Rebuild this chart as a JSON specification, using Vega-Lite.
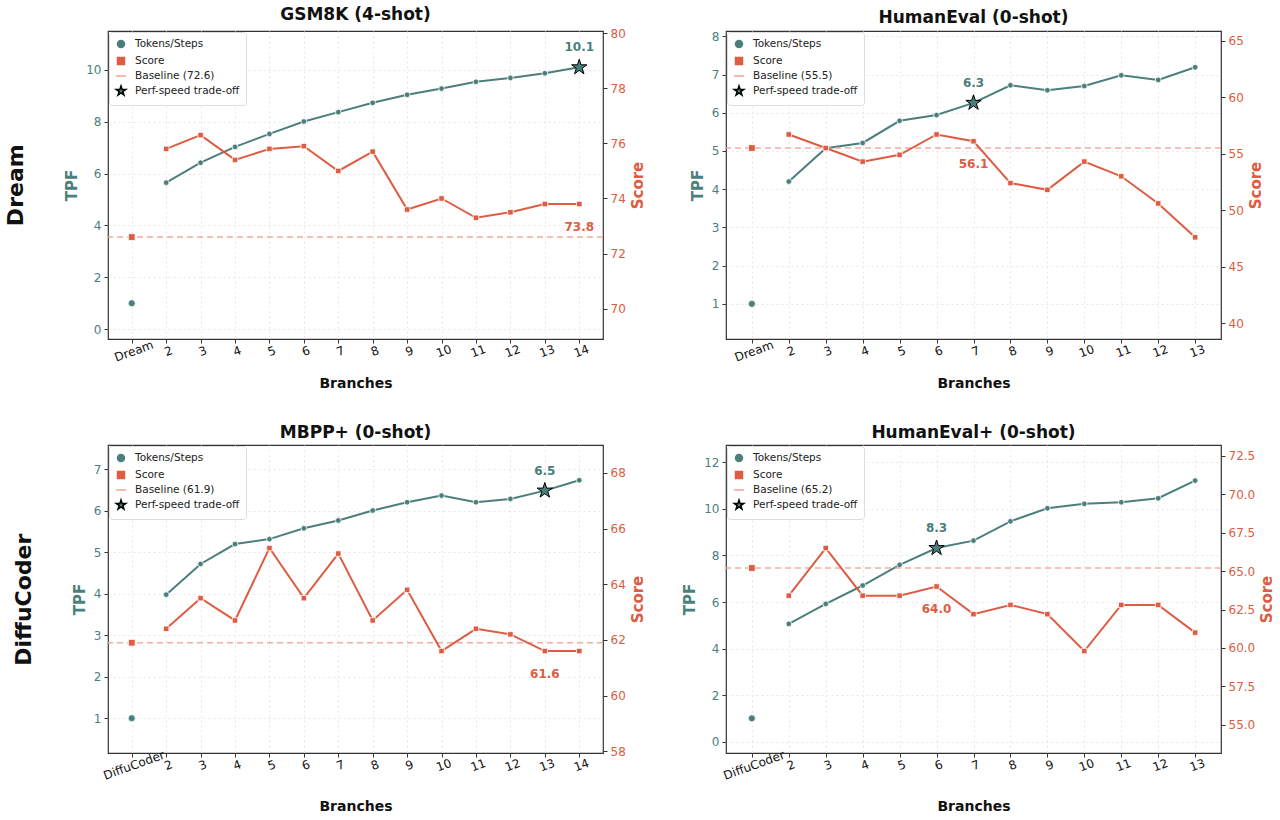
{
  "$schema": "https://vega.github.io/schema/vega-lite/v6.json",
  "background": "white",
  "padding": 5,
  "config": {
    "font": "DejaVu Sans",
    "view": {"stroke": "#333333", "strokeWidth": 1.2},
    "title": {"fontSize": 17, "fontWeight": "bold", "color": "#111111", "offset": 3},
    "axis": {"labelFontSize": 12, "titleFontSize": 15, "titleFontWeight": "bold", "tickColor": "#333333", "tickSize": 4, "domain": false, "gridColor": "#e6e6e6", "gridDash": [2, 3], "labelPadding": 3, "titlePadding": 6},
    "axisX": {"labelColor": "#111111", "titleColor": "#111111", "titleFontSize": 14},
    "axisRight": {"titleBaseline": "top", "titlePadding": 5},
    "legend": {"orient": "top-left", "offset": 1, "padding": 6, "fillColor": "rgba(255,255,255,0.85)", "strokeColor": "#dddddd", "cornerRadius": 3, "labelFontSize": 10.5, "labelColor": "#222222", "rowPadding": 1, "labelOffset": 8, "symbolOpacity": 1, "symbolSize": 100}
  },
  "spacing": 32,
  "resolve": {"scale": {"x": "independent", "y": "independent", "shape": "independent", "fill": "independent", "stroke": "independent"}, "legend": {"shape": "independent", "fill": "independent", "stroke": "independent"}},
  "vconcat": [
    {
      "title": {"text": "Dream", "orient": "left", "fontSize": 22, "fontWeight": "bold", "anchor": "middle", "offset": 36, "dx": 13},
      "spacing": 43,
      "resolve": {"scale": {"x": "independent", "y": "independent", "shape": "independent", "fill": "independent", "stroke": "independent"}, "legend": {"shape": "independent", "fill": "independent", "stroke": "independent"}},
      "hconcat": [
        {
          "title": "GSM8K (4-shot)",
          "width": 495, "height": 308,
          "data": {"values": [
            {"branch": "Dream", "tpf": 1.0, "score": 72.6},
            {"branch": "2", "tpf": 5.65, "score": 75.8},
            {"branch": "3", "tpf": 6.42, "score": 76.3},
            {"branch": "4", "tpf": 7.03, "score": 75.4},
            {"branch": "5", "tpf": 7.53, "score": 75.8},
            {"branch": "6", "tpf": 8.01, "score": 75.9},
            {"branch": "7", "tpf": 8.37, "score": 75.0},
            {"branch": "8", "tpf": 8.73, "score": 75.7},
            {"branch": "9", "tpf": 9.04, "score": 73.6},
            {"branch": "10", "tpf": 9.28, "score": 74.0},
            {"branch": "11", "tpf": 9.54, "score": 73.3},
            {"branch": "12", "tpf": 9.69, "score": 73.5},
            {"branch": "13", "tpf": 9.87, "score": 73.8},
            {"branch": "14", "tpf": 10.1, "score": 73.8}
          ]},
          "resolve": {"scale": {"y": "independent"}},
          "layer": [
            {"layer": [
              {"transform": [{"filter": "datum.branch != 'Dream'"}],
               "mark": {"type": "line", "color": "#4a7f7c", "strokeWidth": 2},
               "encoding": {
                 "x": {"field": "branch", "type": "ordinal", "scale": {"type": "point", "domain": ["Dream","2","3","4","5","6","7","8","9","10","11","12","13","14"], "padding": 0.69}, "axis": {"title": "Branches", "labelAngle": -20, "labelAlign": "center", "labelBaseline": "top", "grid": true, "titlePadding": 13}},
                 "y": {"field": "tpf", "type": "quantitative", "scale": {"domain": [-0.38, 11.5], "nice": false, "zero": false}, "axis": {"title": "TPF", "orient": "left", "values": [0,2,4,6,8,10], "grid": true, "labelColor": "#4a7f7c", "titleColor": "#4a7f7c"}}
               }},
              {"mark": {"type": "point", "filled": true, "opacity": 1, "strokeWidth": 0.8},
               "encoding": {
                 "x": {"field": "branch", "type": "ordinal", "scale": {"type": "point", "domain": ["Dream","2","3","4","5","6","7","8","9","10","11","12","13","14"], "padding": 0.69}},
                 "y": {"field": "tpf", "type": "quantitative"},
                 "shape": {"datum": "Tokens/Steps", "scale": {"domain": ["Tokens/Steps","Score","Baseline (72.6)","Perf-speed trade-off"], "range": ["circle","square","stroke","M0,-1L0.2245,-0.309L0.951,-0.309L0.363,0.118L0.588,0.809L0,0.382L-0.588,0.809L-0.363,0.118L-0.951,-0.309L-0.2245,-0.309Z"]}, "legend": {"title": null, "encode": {"symbols": {"update": {"size": {"signal": "indexOf(datum.value,'Baseline')==0 ? 400 : datum.value=='Perf-speed trade-off' ? 180 : 34"}, "strokeDash": {"signal": "indexOf(datum.value,'Baseline')==0 ? [5,3] : [1,0]"}, "strokeWidth": {"signal": "indexOf(datum.value,'Baseline')==0 ? 1.5 : 0.8"}}}}}},
                 "fill": {"datum": "Tokens/Steps", "scale": {"domain": ["Tokens/Steps","Score","Baseline (72.6)","Perf-speed trade-off"], "range": ["#4a7f7c","#dd5c42","transparent","#4a7f7c"]}, "legend": {"title": null}},
                 "stroke": {"datum": "Tokens/Steps", "scale": {"domain": ["Tokens/Steps","Score","Baseline (72.6)","Perf-speed trade-off"], "range": ["white","white","#f4a393","black"]}, "legend": {"title": null}},
                 "size": {"condition": {"test": "datum.branch == 'Dream'", "value": 50}, "value": 32}
               }},
              {"transform": [{"filter": "datum.branch == '14'"}],
               "mark": {"type": "point", "filled": true, "opacity": 1, "strokeWidth": 1},
               "encoding": {
                 "x": {"field": "branch", "type": "ordinal", "scale": {"type": "point", "domain": ["Dream","2","3","4","5","6","7","8","9","10","11","12","13","14"], "padding": 0.69}},
                 "y": {"field": "tpf", "type": "quantitative"},
                 "shape": {"datum": "Perf-speed trade-off"},
                 "fill": {"datum": "Perf-speed trade-off"},
                 "stroke": {"datum": "Perf-speed trade-off"},
                 "size": {"value": 260}
               }},
              {"transform": [{"filter": "datum.branch == '14'"}],
               "mark": {"type": "text", "dy": -20, "fontSize": 12, "fontWeight": "bold", "color": "#4a7f7c"},
               "encoding": {
                 "x": {"field": "branch", "type": "ordinal", "scale": {"type": "point", "domain": ["Dream","2","3","4","5","6","7","8","9","10","11","12","13","14"], "padding": 0.69}},
                 "y": {"field": "tpf", "type": "quantitative"},
                 "text": {"field": "tpf", "type": "quantitative", "format": ".1f"}
               }}
            ]},
            {"layer": [
              {"transform": [{"filter": "datum.branch == 'Dream'"}],
               "mark": {"type": "rule", "strokeDash": [6, 4], "strokeWidth": 1.5, "opacity": 0.9},
               "encoding": {
                 "y": {"field": "score", "type": "quantitative", "scale": {"domain": [68.9, 80.08], "nice": false, "zero": false}, "axis": {"title": "Score", "orient": "right", "values": [70,72,74,76,78,80], "grid": false, "labelColor": "#dd5c42", "titleColor": "#dd5c42", "titleAngle": 270}},
                 "stroke": {"datum": "Baseline (72.6)"}
               }},
              {"transform": [{"filter": "datum.branch != 'Dream'"}],
               "mark": {"type": "line", "color": "#dd5c42", "strokeWidth": 2},
               "encoding": {
                 "x": {"field": "branch", "type": "ordinal", "scale": {"type": "point", "domain": ["Dream","2","3","4","5","6","7","8","9","10","11","12","13","14"], "padding": 0.69}},
                 "y": {"field": "score", "type": "quantitative"}
               }},
              {"mark": {"type": "point", "filled": true, "opacity": 1, "strokeWidth": 0.8},
               "encoding": {
                 "x": {"field": "branch", "type": "ordinal", "scale": {"type": "point", "domain": ["Dream","2","3","4","5","6","7","8","9","10","11","12","13","14"], "padding": 0.69}},
                 "y": {"field": "score", "type": "quantitative"},
                 "shape": {"datum": "Score"},
                 "fill": {"datum": "Score"},
                 "stroke": {"datum": "Score"},
                 "size": {"condition": {"test": "datum.branch == 'Dream'", "value": 45}, "value": 30}
               }},
              {"transform": [{"filter": "datum.branch == '14'"}],
               "mark": {"type": "text", "dy": 23, "fontSize": 12, "fontWeight": "bold", "color": "#dd5c42"},
               "encoding": {
                 "x": {"field": "branch", "type": "ordinal", "scale": {"type": "point", "domain": ["Dream","2","3","4","5","6","7","8","9","10","11","12","13","14"], "padding": 0.69}},
                 "y": {"field": "score", "type": "quantitative"},
                 "text": {"field": "score", "type": "quantitative", "format": ".1f"}
               }}
            ]}
          ]
        },
        {
          "title": "HumanEval (0-shot)",
          "width": 495, "height": 308,
          "data": {"values": [
            {"branch": "Dream", "tpf": 1.0, "score": 55.5},
            {"branch": "2", "tpf": 4.20, "score": 56.7},
            {"branch": "3", "tpf": 5.07, "score": 55.5},
            {"branch": "4", "tpf": 5.21, "score": 54.3},
            {"branch": "5", "tpf": 5.79, "score": 54.9},
            {"branch": "6", "tpf": 5.94, "score": 56.7},
            {"branch": "7", "tpf": 6.26, "score": 56.1},
            {"branch": "8", "tpf": 6.72, "score": 52.4},
            {"branch": "9", "tpf": 6.59, "score": 51.8},
            {"branch": "10", "tpf": 6.70, "score": 54.3},
            {"branch": "11", "tpf": 6.98, "score": 53.0},
            {"branch": "12", "tpf": 6.86, "score": 50.6},
            {"branch": "13", "tpf": 7.19, "score": 47.6}
          ]},
          "resolve": {"scale": {"y": "independent"}},
          "layer": [
            {"layer": [
              {"transform": [{"filter": "datum.branch != 'Dream'"}],
               "mark": {"type": "line", "color": "#4a7f7c", "strokeWidth": 2},
               "encoding": {
                 "x": {"field": "branch", "type": "ordinal", "scale": {"type": "point", "domain": ["Dream","2","3","4","5","6","7","8","9","10","11","12","13"], "padding": 0.7}, "axis": {"title": "Branches", "labelAngle": -20, "labelAlign": "center", "labelBaseline": "top", "grid": true, "titlePadding": 13}},
                 "y": {"field": "tpf", "type": "quantitative", "scale": {"domain": [0.08, 8.14], "nice": false, "zero": false}, "axis": {"title": "TPF", "orient": "left", "values": [1,2,3,4,5,6,7,8], "grid": true, "labelColor": "#4a7f7c", "titleColor": "#4a7f7c"}}
               }},
              {"mark": {"type": "point", "filled": true, "opacity": 1, "strokeWidth": 0.8},
               "encoding": {
                 "x": {"field": "branch", "type": "ordinal", "scale": {"type": "point", "domain": ["Dream","2","3","4","5","6","7","8","9","10","11","12","13"], "padding": 0.7}},
                 "y": {"field": "tpf", "type": "quantitative"},
                 "shape": {"datum": "Tokens/Steps", "scale": {"domain": ["Tokens/Steps","Score","Baseline (55.5)","Perf-speed trade-off"], "range": ["circle","square","stroke","M0,-1L0.2245,-0.309L0.951,-0.309L0.363,0.118L0.588,0.809L0,0.382L-0.588,0.809L-0.363,0.118L-0.951,-0.309L-0.2245,-0.309Z"]}, "legend": {"title": null, "encode": {"symbols": {"update": {"size": {"signal": "indexOf(datum.value,'Baseline')==0 ? 400 : datum.value=='Perf-speed trade-off' ? 180 : 34"}, "strokeDash": {"signal": "indexOf(datum.value,'Baseline')==0 ? [5,3] : [1,0]"}, "strokeWidth": {"signal": "indexOf(datum.value,'Baseline')==0 ? 1.5 : 0.8"}}}}}},
                 "fill": {"datum": "Tokens/Steps", "scale": {"domain": ["Tokens/Steps","Score","Baseline (55.5)","Perf-speed trade-off"], "range": ["#4a7f7c","#dd5c42","transparent","#4a7f7c"]}, "legend": {"title": null}},
                 "stroke": {"datum": "Tokens/Steps", "scale": {"domain": ["Tokens/Steps","Score","Baseline (55.5)","Perf-speed trade-off"], "range": ["white","white","#f4a393","black"]}, "legend": {"title": null}},
                 "size": {"condition": {"test": "datum.branch == 'Dream'", "value": 50}, "value": 32}
               }},
              {"transform": [{"filter": "datum.branch == '7'"}],
               "mark": {"type": "point", "filled": true, "opacity": 1, "strokeWidth": 1},
               "encoding": {
                 "x": {"field": "branch", "type": "ordinal", "scale": {"type": "point", "domain": ["Dream","2","3","4","5","6","7","8","9","10","11","12","13"], "padding": 0.7}},
                 "y": {"field": "tpf", "type": "quantitative"},
                 "shape": {"datum": "Perf-speed trade-off"},
                 "fill": {"datum": "Perf-speed trade-off"},
                 "stroke": {"datum": "Perf-speed trade-off"},
                 "size": {"value": 260}
               }},
              {"transform": [{"filter": "datum.branch == '7'"}],
               "mark": {"type": "text", "dy": -20, "fontSize": 12, "fontWeight": "bold", "color": "#4a7f7c"},
               "encoding": {
                 "x": {"field": "branch", "type": "ordinal", "scale": {"type": "point", "domain": ["Dream","2","3","4","5","6","7","8","9","10","11","12","13"], "padding": 0.7}},
                 "y": {"field": "tpf", "type": "quantitative"},
                 "text": {"field": "tpf", "type": "quantitative", "format": ".1f"}
               }}
            ]},
            {"layer": [
              {"transform": [{"filter": "datum.branch == 'Dream'"}],
               "mark": {"type": "rule", "strokeDash": [6, 4], "strokeWidth": 1.5, "opacity": 0.9},
               "encoding": {
                 "y": {"field": "score", "type": "quantitative", "scale": {"domain": [38.6, 65.86], "nice": false, "zero": false}, "axis": {"title": "Score", "orient": "right", "values": [40,45,50,55,60,65], "grid": false, "labelColor": "#dd5c42", "titleColor": "#dd5c42", "titleAngle": 270}},
                 "stroke": {"datum": "Baseline (55.5)"}
               }},
              {"transform": [{"filter": "datum.branch != 'Dream'"}],
               "mark": {"type": "line", "color": "#dd5c42", "strokeWidth": 2},
               "encoding": {
                 "x": {"field": "branch", "type": "ordinal", "scale": {"type": "point", "domain": ["Dream","2","3","4","5","6","7","8","9","10","11","12","13"], "padding": 0.7}},
                 "y": {"field": "score", "type": "quantitative"}
               }},
              {"mark": {"type": "point", "filled": true, "opacity": 1, "strokeWidth": 0.8},
               "encoding": {
                 "x": {"field": "branch", "type": "ordinal", "scale": {"type": "point", "domain": ["Dream","2","3","4","5","6","7","8","9","10","11","12","13"], "padding": 0.7}},
                 "y": {"field": "score", "type": "quantitative"},
                 "shape": {"datum": "Score"},
                 "fill": {"datum": "Score"},
                 "stroke": {"datum": "Score"},
                 "size": {"condition": {"test": "datum.branch == 'Dream'", "value": 45}, "value": 30}
               }},
              {"transform": [{"filter": "datum.branch == '7'"}],
               "mark": {"type": "text", "dy": 23, "fontSize": 12, "fontWeight": "bold", "color": "#dd5c42"},
               "encoding": {
                 "x": {"field": "branch", "type": "ordinal", "scale": {"type": "point", "domain": ["Dream","2","3","4","5","6","7","8","9","10","11","12","13"], "padding": 0.7}},
                 "y": {"field": "score", "type": "quantitative"},
                 "text": {"field": "score", "type": "quantitative", "format": ".1f"}
               }}
            ]}
          ]
        }
      ]
    },
    {
      "title": {"text": "DiffuCoder", "orient": "left", "fontSize": 22, "fontWeight": "bold", "anchor": "middle", "offset": 36, "dx": 19},
      "spacing": 36,
      "resolve": {"scale": {"x": "independent", "y": "independent", "shape": "independent", "fill": "independent", "stroke": "independent"}, "legend": {"shape": "independent", "fill": "independent", "stroke": "independent"}},
      "hconcat": [
        {
          "title": "MBPP+ (0-shot)",
          "width": 495, "height": 308,
          "data": {"values": [
            {"branch": "DiffuCoder", "tpf": 1.0, "score": 61.9},
            {"branch": "2", "tpf": 3.98, "score": 62.4},
            {"branch": "3", "tpf": 4.72, "score": 63.5},
            {"branch": "4", "tpf": 5.20, "score": 62.7},
            {"branch": "5", "tpf": 5.32, "score": 65.3},
            {"branch": "6", "tpf": 5.58, "score": 63.5},
            {"branch": "7", "tpf": 5.77, "score": 65.1},
            {"branch": "8", "tpf": 6.01, "score": 62.7},
            {"branch": "9", "tpf": 6.21, "score": 63.8},
            {"branch": "10", "tpf": 6.37, "score": 61.6},
            {"branch": "11", "tpf": 6.21, "score": 62.4},
            {"branch": "12", "tpf": 6.29, "score": 62.2},
            {"branch": "13", "tpf": 6.49, "score": 61.6},
            {"branch": "14", "tpf": 6.74, "score": 61.6}
          ]},
          "resolve": {"scale": {"y": "independent"}},
          "layer": [
            {"layer": [
              {"transform": [{"filter": "datum.branch != 'DiffuCoder'"}],
               "mark": {"type": "line", "color": "#4a7f7c", "strokeWidth": 2},
               "encoding": {
                 "x": {"field": "branch", "type": "ordinal", "scale": {"type": "point", "domain": ["DiffuCoder","2","3","4","5","6","7","8","9","10","11","12","13","14"], "padding": 0.69}, "axis": {"title": "Branches", "labelAngle": -20, "labelAlign": "center", "labelBaseline": "top", "grid": true, "titlePadding": 18}},
                 "y": {"field": "tpf", "type": "quantitative", "scale": {"domain": [0.16, 7.59], "nice": false, "zero": false}, "axis": {"title": "TPF", "orient": "left", "values": [1,2,3,4,5,6,7], "grid": true, "labelColor": "#4a7f7c", "titleColor": "#4a7f7c"}}
               }},
              {"mark": {"type": "point", "filled": true, "opacity": 1, "strokeWidth": 0.8},
               "encoding": {
                 "x": {"field": "branch", "type": "ordinal", "scale": {"type": "point", "domain": ["DiffuCoder","2","3","4","5","6","7","8","9","10","11","12","13","14"], "padding": 0.69}},
                 "y": {"field": "tpf", "type": "quantitative"},
                 "shape": {"datum": "Tokens/Steps", "scale": {"domain": ["Tokens/Steps","Score","Baseline (61.9)","Perf-speed trade-off"], "range": ["circle","square","stroke","M0,-1L0.2245,-0.309L0.951,-0.309L0.363,0.118L0.588,0.809L0,0.382L-0.588,0.809L-0.363,0.118L-0.951,-0.309L-0.2245,-0.309Z"]}, "legend": {"title": null, "encode": {"symbols": {"update": {"size": {"signal": "indexOf(datum.value,'Baseline')==0 ? 400 : datum.value=='Perf-speed trade-off' ? 180 : 34"}, "strokeDash": {"signal": "indexOf(datum.value,'Baseline')==0 ? [5,3] : [1,0]"}, "strokeWidth": {"signal": "indexOf(datum.value,'Baseline')==0 ? 1.5 : 0.8"}}}}}},
                 "fill": {"datum": "Tokens/Steps", "scale": {"domain": ["Tokens/Steps","Score","Baseline (61.9)","Perf-speed trade-off"], "range": ["#4a7f7c","#dd5c42","transparent","#4a7f7c"]}, "legend": {"title": null}},
                 "stroke": {"datum": "Tokens/Steps", "scale": {"domain": ["Tokens/Steps","Score","Baseline (61.9)","Perf-speed trade-off"], "range": ["white","white","#f4a393","black"]}, "legend": {"title": null}},
                 "size": {"condition": {"test": "datum.branch == 'DiffuCoder'", "value": 50}, "value": 32}
               }},
              {"transform": [{"filter": "datum.branch == '13'"}],
               "mark": {"type": "point", "filled": true, "opacity": 1, "strokeWidth": 1},
               "encoding": {
                 "x": {"field": "branch", "type": "ordinal", "scale": {"type": "point", "domain": ["DiffuCoder","2","3","4","5","6","7","8","9","10","11","12","13","14"], "padding": 0.69}},
                 "y": {"field": "tpf", "type": "quantitative"},
                 "shape": {"datum": "Perf-speed trade-off"},
                 "fill": {"datum": "Perf-speed trade-off"},
                 "stroke": {"datum": "Perf-speed trade-off"},
                 "size": {"value": 260}
               }},
              {"transform": [{"filter": "datum.branch == '13'"}],
               "mark": {"type": "text", "dy": -20, "fontSize": 12, "fontWeight": "bold", "color": "#4a7f7c"},
               "encoding": {
                 "x": {"field": "branch", "type": "ordinal", "scale": {"type": "point", "domain": ["DiffuCoder","2","3","4","5","6","7","8","9","10","11","12","13","14"], "padding": 0.69}},
                 "y": {"field": "tpf", "type": "quantitative"},
                 "text": {"field": "tpf", "type": "quantitative", "format": ".1f"}
               }}
            ]},
            {"layer": [
              {"transform": [{"filter": "datum.branch == 'DiffuCoder'"}],
               "mark": {"type": "rule", "strokeDash": [6, 4], "strokeWidth": 1.5, "opacity": 0.9},
               "encoding": {
                 "y": {"field": "score", "type": "quantitative", "scale": {"domain": [57.94, 69.0], "nice": false, "zero": false}, "axis": {"title": "Score", "orient": "right", "values": [58,60,62,64,66,68], "grid": false, "labelColor": "#dd5c42", "titleColor": "#dd5c42", "titleAngle": 270}},
                 "stroke": {"datum": "Baseline (61.9)"}
               }},
              {"transform": [{"filter": "datum.branch != 'DiffuCoder'"}],
               "mark": {"type": "line", "color": "#dd5c42", "strokeWidth": 2},
               "encoding": {
                 "x": {"field": "branch", "type": "ordinal", "scale": {"type": "point", "domain": ["DiffuCoder","2","3","4","5","6","7","8","9","10","11","12","13","14"], "padding": 0.69}},
                 "y": {"field": "score", "type": "quantitative"}
               }},
              {"mark": {"type": "point", "filled": true, "opacity": 1, "strokeWidth": 0.8},
               "encoding": {
                 "x": {"field": "branch", "type": "ordinal", "scale": {"type": "point", "domain": ["DiffuCoder","2","3","4","5","6","7","8","9","10","11","12","13","14"], "padding": 0.69}},
                 "y": {"field": "score", "type": "quantitative"},
                 "shape": {"datum": "Score"},
                 "fill": {"datum": "Score"},
                 "stroke": {"datum": "Score"},
                 "size": {"condition": {"test": "datum.branch == 'DiffuCoder'", "value": 45}, "value": 30}
               }},
              {"transform": [{"filter": "datum.branch == '13'"}],
               "mark": {"type": "text", "dy": 23, "fontSize": 12, "fontWeight": "bold", "color": "#dd5c42"},
               "encoding": {
                 "x": {"field": "branch", "type": "ordinal", "scale": {"type": "point", "domain": ["DiffuCoder","2","3","4","5","6","7","8","9","10","11","12","13","14"], "padding": 0.69}},
                 "y": {"field": "score", "type": "quantitative"},
                 "text": {"field": "score", "type": "quantitative", "format": ".1f"}
               }}
            ]}
          ]
        },
        {
          "title": "HumanEval+ (0-shot)",
          "width": 495, "height": 308,
          "data": {"values": [
            {"branch": "DiffuCoder", "tpf": 1.0, "score": 65.2},
            {"branch": "2", "tpf": 5.06, "score": 63.4},
            {"branch": "3", "tpf": 5.92, "score": 66.5},
            {"branch": "4", "tpf": 6.71, "score": 63.4},
            {"branch": "5", "tpf": 7.60, "score": 63.4},
            {"branch": "6", "tpf": 8.32, "score": 64.0},
            {"branch": "7", "tpf": 8.64, "score": 62.2},
            {"branch": "8", "tpf": 9.47, "score": 62.8},
            {"branch": "9", "tpf": 10.03, "score": 62.2},
            {"branch": "10", "tpf": 10.22, "score": 59.8},
            {"branch": "11", "tpf": 10.29, "score": 62.8},
            {"branch": "12", "tpf": 10.46, "score": 62.8},
            {"branch": "13", "tpf": 11.22, "score": 61.0}
          ]},
          "resolve": {"scale": {"y": "independent"}},
          "layer": [
            {"layer": [
              {"transform": [{"filter": "datum.branch != 'DiffuCoder'"}],
               "mark": {"type": "line", "color": "#4a7f7c", "strokeWidth": 2},
               "encoding": {
                 "x": {"field": "branch", "type": "ordinal", "scale": {"type": "point", "domain": ["DiffuCoder","2","3","4","5","6","7","8","9","10","11","12","13"], "padding": 0.7}, "axis": {"title": "Branches", "labelAngle": -20, "labelAlign": "center", "labelBaseline": "top", "grid": true, "titlePadding": 18}},
                 "y": {"field": "tpf", "type": "quantitative", "scale": {"domain": [-0.49, 12.75], "nice": false, "zero": false}, "axis": {"title": "TPF", "orient": "left", "values": [0,2,4,6,8,10,12], "grid": true, "labelColor": "#4a7f7c", "titleColor": "#4a7f7c"}}
               }},
              {"mark": {"type": "point", "filled": true, "opacity": 1, "strokeWidth": 0.8},
               "encoding": {
                 "x": {"field": "branch", "type": "ordinal", "scale": {"type": "point", "domain": ["DiffuCoder","2","3","4","5","6","7","8","9","10","11","12","13"], "padding": 0.7}},
                 "y": {"field": "tpf", "type": "quantitative"},
                 "shape": {"datum": "Tokens/Steps", "scale": {"domain": ["Tokens/Steps","Score","Baseline (65.2)","Perf-speed trade-off"], "range": ["circle","square","stroke","M0,-1L0.2245,-0.309L0.951,-0.309L0.363,0.118L0.588,0.809L0,0.382L-0.588,0.809L-0.363,0.118L-0.951,-0.309L-0.2245,-0.309Z"]}, "legend": {"title": null, "encode": {"symbols": {"update": {"size": {"signal": "indexOf(datum.value,'Baseline')==0 ? 400 : datum.value=='Perf-speed trade-off' ? 180 : 34"}, "strokeDash": {"signal": "indexOf(datum.value,'Baseline')==0 ? [5,3] : [1,0]"}, "strokeWidth": {"signal": "indexOf(datum.value,'Baseline')==0 ? 1.5 : 0.8"}}}}}},
                 "fill": {"datum": "Tokens/Steps", "scale": {"domain": ["Tokens/Steps","Score","Baseline (65.2)","Perf-speed trade-off"], "range": ["#4a7f7c","#dd5c42","transparent","#4a7f7c"]}, "legend": {"title": null}},
                 "stroke": {"datum": "Tokens/Steps", "scale": {"domain": ["Tokens/Steps","Score","Baseline (65.2)","Perf-speed trade-off"], "range": ["white","white","#f4a393","black"]}, "legend": {"title": null}},
                 "size": {"condition": {"test": "datum.branch == 'DiffuCoder'", "value": 50}, "value": 32}
               }},
              {"transform": [{"filter": "datum.branch == '6'"}],
               "mark": {"type": "point", "filled": true, "opacity": 1, "strokeWidth": 1},
               "encoding": {
                 "x": {"field": "branch", "type": "ordinal", "scale": {"type": "point", "domain": ["DiffuCoder","2","3","4","5","6","7","8","9","10","11","12","13"], "padding": 0.7}},
                 "y": {"field": "tpf", "type": "quantitative"},
                 "shape": {"datum": "Perf-speed trade-off"},
                 "fill": {"datum": "Perf-speed trade-off"},
                 "stroke": {"datum": "Perf-speed trade-off"},
                 "size": {"value": 260}
               }},
              {"transform": [{"filter": "datum.branch == '6'"}],
               "mark": {"type": "text", "dy": -20, "fontSize": 12, "fontWeight": "bold", "color": "#4a7f7c"},
               "encoding": {
                 "x": {"field": "branch", "type": "ordinal", "scale": {"type": "point", "domain": ["DiffuCoder","2","3","4","5","6","7","8","9","10","11","12","13"], "padding": 0.7}},
                 "y": {"field": "tpf", "type": "quantitative"},
                 "text": {"field": "tpf", "type": "quantitative", "format": ".1f"}
               }}
            ]},
            {"layer": [
              {"transform": [{"filter": "datum.branch == 'DiffuCoder'"}],
               "mark": {"type": "rule", "strokeDash": [6, 4], "strokeWidth": 1.5, "opacity": 0.9},
               "encoding": {
                 "y": {"field": "score", "type": "quantitative", "scale": {"domain": [53.17, 73.2], "nice": false, "zero": false}, "axis": {"title": "Score", "orient": "right", "values": [55,57.5,60,62.5,65,67.5,70,72.5], "format": ".1f", "grid": false, "labelColor": "#dd5c42", "titleColor": "#dd5c42", "titleAngle": 270}},
                 "stroke": {"datum": "Baseline (65.2)"}
               }},
              {"transform": [{"filter": "datum.branch != 'DiffuCoder'"}],
               "mark": {"type": "line", "color": "#dd5c42", "strokeWidth": 2},
               "encoding": {
                 "x": {"field": "branch", "type": "ordinal", "scale": {"type": "point", "domain": ["DiffuCoder","2","3","4","5","6","7","8","9","10","11","12","13"], "padding": 0.7}},
                 "y": {"field": "score", "type": "quantitative"}
               }},
              {"mark": {"type": "point", "filled": true, "opacity": 1, "strokeWidth": 0.8},
               "encoding": {
                 "x": {"field": "branch", "type": "ordinal", "scale": {"type": "point", "domain": ["DiffuCoder","2","3","4","5","6","7","8","9","10","11","12","13"], "padding": 0.7}},
                 "y": {"field": "score", "type": "quantitative"},
                 "shape": {"datum": "Score"},
                 "fill": {"datum": "Score"},
                 "stroke": {"datum": "Score"},
                 "size": {"condition": {"test": "datum.branch == 'DiffuCoder'", "value": 45}, "value": 30}
               }},
              {"transform": [{"filter": "datum.branch == '6'"}],
               "mark": {"type": "text", "dy": 23, "fontSize": 12, "fontWeight": "bold", "color": "#dd5c42"},
               "encoding": {
                 "x": {"field": "branch", "type": "ordinal", "scale": {"type": "point", "domain": ["DiffuCoder","2","3","4","5","6","7","8","9","10","11","12","13"], "padding": 0.7}},
                 "y": {"field": "score", "type": "quantitative"},
                 "text": {"field": "score", "type": "quantitative", "format": ".1f"}
               }}
            ]}
          ]
        }
      ]
    }
  ]
}
